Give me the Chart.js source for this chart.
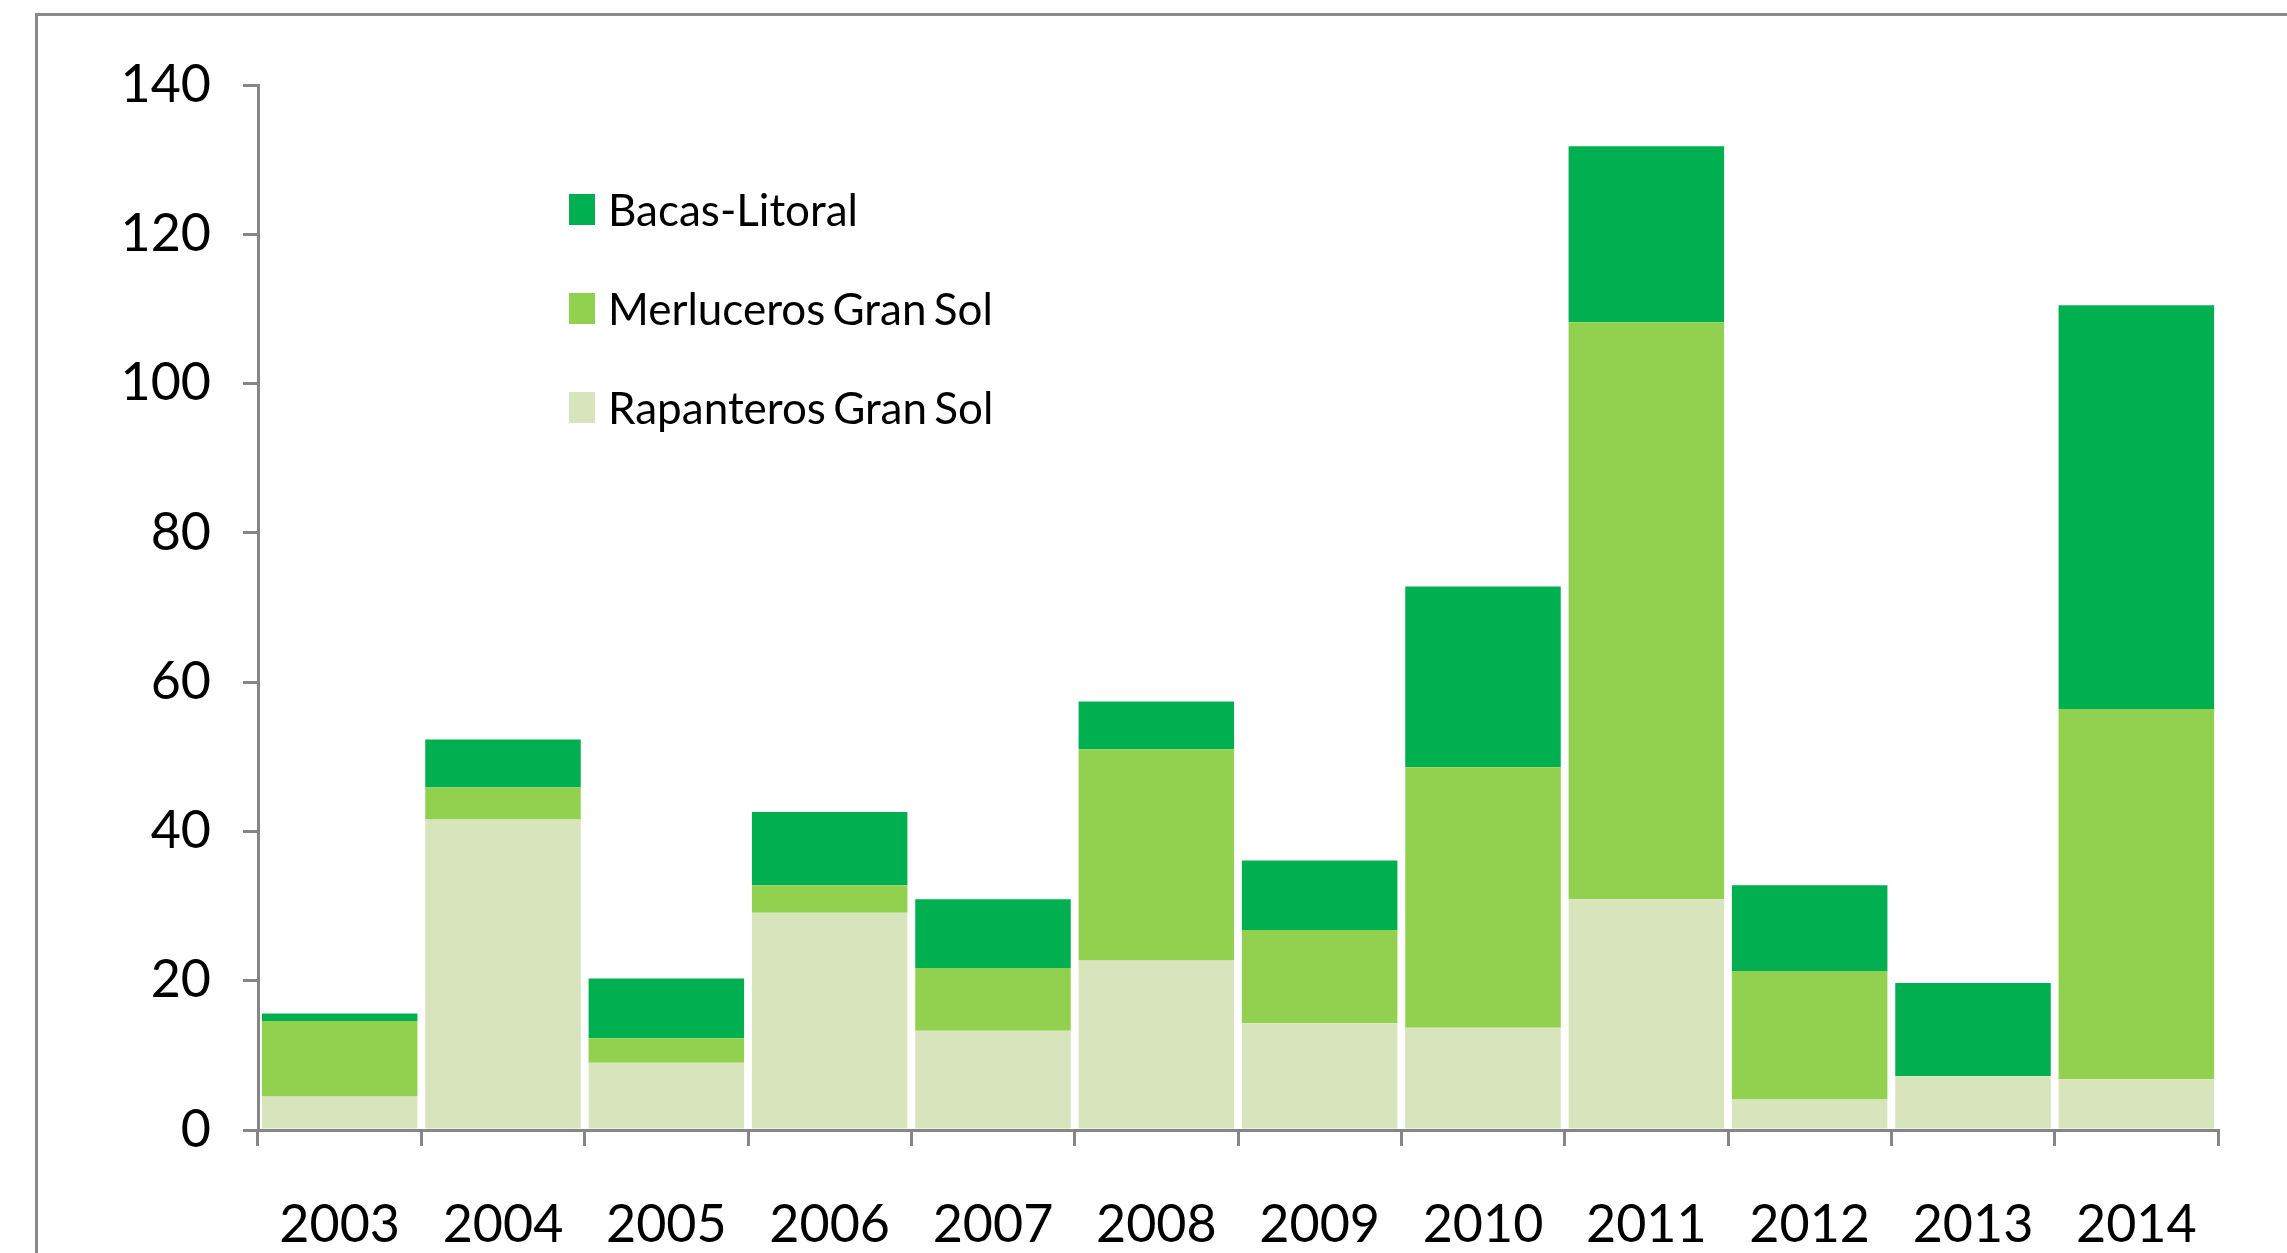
<!DOCTYPE html>
<html>
<head>
<meta charset="utf-8">
<script src="https://cdn.jsdelivr.net/npm/chart.js@4.4.1/dist/chart.umd.min.js"></script>
<style>
    html, body { margin: 0; padding: 0; background: #fff; overflow: hidden; }
    #wrap { position: relative; width: 2287px; height: 1253px; }
    #marco { position: absolute; left: 35px; top: 13px; width: 3000px; height: 3000px;
             border-left: 3px solid #8a8a8a; border-top: 3px solid #8a8a8a; }
    #grafico { position: absolute; left: 0; top: 0; }
    #leyenda { position: absolute; left: 569px; top: 178px; font-family: Lato, sans-serif; }
    .fila { display: flex; align-items: center; height: 62px; margin-bottom: 37px; }
    .caja { width: 26px; height: 31px; margin-right: 13px; }
    .txt { font-size: 44px; color: #000; word-spacing: -4px; }
</style>
</head>
<body>
<div id="wrap">
    <div id="marco"></div>
    <canvas id="grafico" width="2287" height="1253"></canvas>
    <div id="leyenda"></div>
</div>
<script>
// ============================================
// DATOS
// ============================================
const anios = ['2003', '2004', '2005', '2006', '2007', '2008', '2009', '2010', '2011', '2012', '2013', '2014'];
const rapanteros = [4.5, 41.6, 9.0, 29.1, 13.3, 22.7, 14.3, 13.7, 30.9, 4.1, 7.2, 6.8];
const merluceros = [10.1, 4.3, 3.3, 3.7, 8.4, 28.3, 12.5, 34.9, 77.3, 17.2, 0, 49.6];
const bacas = [1.0, 6.4, 8.0, 9.8, 9.2, 6.4, 9.3, 24.2, 23.6, 11.5, 12.5, 54.1];
const series = ['Rapanteros Gran Sol', 'Merluceros Gran Sol', 'Bacas-Litoral'];
const colores = ['#d8e4bc', '#92d050', '#00af50'];
const yTicks = [0, 20, 40, 60, 80, 100, 120, 140];

const GRIS = '#868686';
Chart.defaults.font.family = 'Lato, sans-serif';
Chart.defaults.color = '#000';

const valores = [rapanteros, merluceros, bacas];
const datasets = series.map((s, i) => ({
    label: s,
    data: valores[i],
    backgroundColor: colores[i],
    borderWidth: 0,
    barPercentage: 0.952,
    categoryPercentage: 1.0
}));

const ctx = document.getElementById('grafico').getContext('2d');
new Chart(ctx, {
    type: 'bar',
    data: { labels: anios, datasets: datasets },
    options: {
        responsive: false,
        animation: false,
        layout: { padding: { left: 0, right: 69, top: 85, bottom: 0 } },
        plugins: { legend: { display: false }, tooltip: { enabled: false } },
        scales: {
            x: {
                stacked: true,
                offset: true,
                grid: { offset: true, drawOnChartArea: false, drawTicks: true, tickLength: 16, color: GRIS, lineWidth: 3 },
                border: { display: true, color: GRIS, width: 3 },
                ticks: { font: { size: 52 }, padding: 48, maxRotation: 0, autoSkip: false },
                afterFit: function(scale) { scale.height = 123; }
            },
            y: {
                stacked: true,
                min: 0,
                max: 140,
                afterBuildTicks: function(scale) { scale.ticks = yTicks.map(v => ({ value: v })); },
                grid: { drawOnChartArea: false, drawTicks: true, tickLength: 15, color: GRIS, lineWidth: 3 },
                border: { display: true, color: GRIS, width: 3 },
                ticks: { font: { size: 52 }, padding: 32 },
                afterFit: function(scale) { scale.width = 258; }
            }
        }
    }
});

// Leyenda (orden inverso: la serie superior primero)
const leyenda = document.getElementById('leyenda');
leyenda.innerHTML = series.map((s, i) => i).reverse().map(i =>
    `<div class="fila"><span class="caja" style="background:${colores[i]}"></span><span class="txt">${series[i]}</span></div>`
).join('');
</script>
</body>
</html>
